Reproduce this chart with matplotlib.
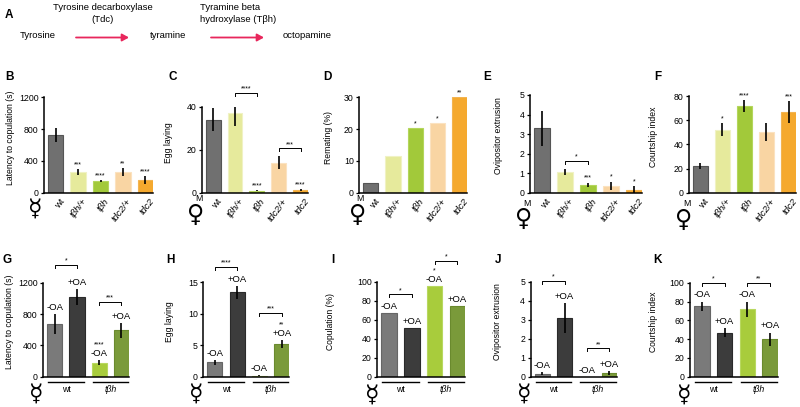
# -*- encoding: utf-8 -*-
import numpy as np
import matplotlib
matplotlib.use('Agg')
from matplotlib import pyplot as plt

plt.rcParams['font.family'] = ['Liberation Sans', 'DejaVu Sans']
plt.rcParams['font.size'] = 6

W, H = 800, 407

############## DATI ################################
genotypes = ['wt', 'tβh/+', 'tβh', 'tdc2/+', 'tdc2']
geno_colors = ['#707070', '#e6ea9c', '#a2c93a', '#f9d5a3', '#f5a92e']
geno_edges = ['#555555', '#f0f2c4', '#b4d65c', '#fbe2c0', '#f3b451']

latency = [730, 260, 145, 265, 160]
latency_err = [90, 42, 10, 50, 55]
latency_stars = ['', '***', '****', '**', '****']

eggs = [34, 37, 1.0, 14, 1.2]
eggs_err = [5.3, 6, 0.3, 3, 0.3]
eggs_stars = ['', '', '****', '', '****']
eggs_pairs = [(1, 2, 46.5, '****'), (3, 4, 20.8, '***')]

remating = [3, 11.5, 20.2, 21.8, 30]
remating_stars = ['', '', '*', '*', '**']

ovi = [3.3, 1.05, 0.4, 0.35, 0.15]
ovi_err = [0.9, 0.15, 0.12, 0.22, 0.17]
ovi_stars = ['', '', '***', '*', '*']
ovi_pairs = [(1, 2, 1.64, '*')]

court = [22, 52, 72, 50, 67]
court_err = [2.5, 5.5, 5, 7.5, 9]
court_stars = ['', '*', '****', '', '***']

groups = ['wt', 'tβh']
treat = ['-OA', '+OA', '-OA', '+OA']
oa_colors = ['#7a7a7a', '#3c3c3c', '#a8cc3c', '#7a9a3a']
oa_edges = ['#666666', '#2a2a2a', '#b8d860', '#6a8a2e']

lat_oa = [670, 1020, 180, 590]
lat_oa_err = [130, 100, 30, 100]
lat_oa_stars = ['', '', '****', '']
lat_oa_pairs = [(0, 1, 1430, '*'), (2, 3, 960, '***')]

egg_oa = [2.3, 13.4, 0.15, 5.2]
egg_oa_err = [0.4, 1.0, 0.05, 0.65]
egg_oa_stars = ['', '', '', '**']
egg_oa_pairs = [(0, 1, 17.5, '****'), (2, 3, 10.2, '***')]

cop_oa = [67, 51, 95, 74]
cop_oa_stars = ['', '', '*', '']
cop_oa_pairs = [(0, 1, 87, '*'), (2, 3, 122, '*')]

ovi_oa = [0.15, 3.1, 0.0, 0.2]
ovi_oa_err = [0.08, 0.8, 0.0, 0.12]
ovi_oa_stars = ['', '', '', '']
ovi_oa_pairs = [(0, 1, 5.05, '*'), (2, 3, 1.5, '**')]

court_oa = [75, 47, 72, 40]
court_oa_err = [5, 4.5, 8, 7]
court_oa_stars = ['', '', '', '']
court_oa_pairs = [(0, 1, 100, '*'), (2, 3, 100, '**')]

fig = plt.figure(figsize=(W / 100, H / 100), dpi=100)


def px_axes(x0, x1, ytop, ybot):
    return fig.add_axes([x0 / W, 1 - ybot / H, (x1 - x0) / W, (ybot - ytop) / H])


def base(ax, x0, x1, ytop, ybot, ylim, yticks, ylabel, lab_x, n):
    ax.set_ylim(ylim)
    ax.set_yticks(yticks)
    ax.set_xlim(-0.52, n - 1 + 0.34)
    for s in ('top', 'right'):
        ax.spines[s].set_visible(False)
    for s in ('left', 'bottom'):
        ax.spines[s].set_linewidth(1.1)
    ax.tick_params(axis='y', length=2.5, width=0.9, pad=1.5, labelsize=6.3)
    ax.tick_params(axis='x', length=0)
    ax.set_ylabel(ylabel, fontsize=6.2)
    ax.yaxis.set_label_coords((lab_x - x0) / (x1 - x0), 0.58)
    ax.patch.set_alpha(0)


def bars(ax, vals, errs, colors, edges):
    x = np.arange(len(vals))
    ax.bar(x, vals, width=0.68, color=colors, edgecolor=edges, linewidth=0.8)
    if errs is not None:
        ax.errorbar(x, vals, yerr=errs, fmt='none', ecolor='k', elinewidth=1.2, capsize=0)


def bracket(ax, i, j, y, stars, drop):
    ax.plot([i, i, j, j], [y - drop, y, y, y - drop], color='k', lw=0.7, clip_on=False)
    ax.text((i + j) / 2, y, stars, ha='center', va='bottom', fontsize=5)


def top_of(vals, errs, k):
    return vals[k] + (errs[k] if errs is not None else 0)


############## RIGA 1 ################################
def panel1(x0, x1, ytop, vals, errs, stars, pairs, ylim, yticks, ylabel, lab_x):
    ybot = 192.7
    ax = px_axes(x0, x1, ytop, ybot)
    base(ax, x0, x1, ytop, ybot, ylim, yticks, ylabel, lab_x, 5)
    bars(ax, vals, errs, geno_colors, geno_edges)
    for k, s in enumerate(stars):
        if s:
            ax.annotate(s, (k, top_of(vals, errs, k)), xytext=(0, 0.5),
                        textcoords='offset points', ha='center', va='bottom', fontsize=5)
    drop = 3 * (ylim[1] - ylim[0]) / (ybot - ytop)
    for i, j, y, s in pairs:
        bracket(ax, i, j, y, s, drop)
    ax.set_xticks(np.arange(5) + 0.15)
    labs = ax.set_xticklabels(genotypes, rotation=52, ha='right', rotation_mode='anchor', fontsize=6.8)
    for k, t in enumerate(labs):
        if k > 0:
            t.set_fontstyle('italic')
    ax.tick_params(axis='x', pad=3)
    return ax


panel1(44, 153, 97.3, latency, latency_err, latency_stars, [], (0, 1200),
       [0, 400, 800, 1200], 'Latency to copulation (s)', 15)
panel1(201.7, 308, 106.7, eggs, eggs_err, eggs_stars, eggs_pairs, (0, 40),
       [0, 20, 40], 'Egg laying', 173)
panel1(359.3, 467, 97.3, remating, None, remating_stars, [], (0, 30),
       [0, 10, 20, 30], 'Remating (%)', 333)
panel1(530, 642, 95, ovi, ovi_err, ovi_stars, ovi_pairs, (0, 5),
       [0, 1, 2, 3, 4, 5], 'Ovipositor extrusion', 503)
panel1(689, 796, 96, court, court_err, court_stars, [], (0, 80),
       [0, 20, 40, 60, 80], 'Courtship index', 658)


############## RIGA 2 ################################
def panel2(x0, x1, ytop, vals, errs, stars, pairs, ylim, yticks, ylabel, lab_x):
    ybot = 376.7
    ax = px_axes(x0, x1, ytop, ybot)
    base(ax, x0, x1, ytop, ybot, ylim, yticks, ylabel, lab_x, 4)
    bars(ax, vals, errs, oa_colors, oa_edges)
    for k, lab in enumerate(treat):
        ax.annotate(lab, (k, top_of(vals, errs, k)), xytext=(0, 1.5),
                    textcoords='offset points', ha='center', va='bottom', fontsize=6.8)
        if stars[k]:
            ax.annotate(stars[k], (k, top_of(vals, errs, k)), xytext=(0, 8.5),
                        textcoords='offset points', ha='center', va='bottom', fontsize=5)
    drop = 3 * (ylim[1] - ylim[0]) / (ybot - ytop)
    for i, j, y, s in pairs:
        bracket(ax, i, j, y, s, drop)
    ax.set_xticks([])
    tr = ax.get_xaxis_transform()
    hpx = ybot - ytop
    for g, name in enumerate(groups):
        a, b = 2 * g - 0.3, 2 * g + 1 + 0.3
        ax.plot([a, b], [-5 / hpx, -5 / hpx], color='k', lw=1.0, transform=tr, clip_on=False)
        ax.text((a + b) / 2, -8 / hpx, name, transform=tr, ha='center', va='top',
                fontsize=6.3, fontstyle='italic' if g else 'normal')
    return ax


panel2(43.3, 129, 282.7, lat_oa, lat_oa_err, lat_oa_stars, lat_oa_pairs, (0, 1200),
       [0, 400, 800, 1200], 'Latency to copulation (s)', 14)
panel2(203.3, 289.3, 282.3, egg_oa, egg_oa_err, egg_oa_stars, egg_oa_pairs, (0, 15),
       [0, 5, 10, 15], 'Egg laying', 174)
panel2(377.3, 465, 281.7, cop_oa, None, cop_oa_stars, cop_oa_pairs, (0, 100),
       [0, 20, 40, 60, 80, 100], 'Copulation (%)', 335)
panel2(530.7, 617, 281.7, ovi_oa, ovi_oa_err, ovi_oa_stars, ovi_oa_pairs, (0, 5),
       [0, 1, 2, 3, 4, 5], 'Ovipositor extrusion', 502)
panel2(690, 778, 282.7, court_oa, court_oa_err, court_oa_stars, court_oa_pairs, (0, 100),
       [0, 20, 40, 60, 80, 100], 'Courtship index', 658)


############## TESTI ################################
def ftext(x, y, s, **kw):
    fig.text(x / W, 1 - y / H, s, **kw)


# lettere dei pannelli
for lett, x, y in [('A', 9, 15), ('B', 10, 77), ('C', 173, 77), ('D', 327, 77),
                   ('E', 487, 77), ('F', 658, 77), ('G', 7, 260), ('H', 170, 260),
                   ('I', 333, 260), ('J', 498, 260), ('K', 657, 260)]:
    ftext(x, y, lett, fontsize=8.5, fontweight='bold', ha='center', va='center')

# pannello A
ftext(38, 36, 'Tyrosine', fontsize=6.8, ha='center', va='center')
ftext(168, 36, 'tyramine', fontsize=6.8, ha='center', va='center')
ftext(307, 36, 'octopamine', fontsize=6.8, ha='center', va='center')
ftext(103, 7.5, 'Tyrosine decarboxylase', fontsize=6.8, ha='center', va='center')
ftext(103, 19.5, '(Tdc)', fontsize=6.8, ha='center', va='center')
ftext(200, 7.5, 'Tyramine beta', fontsize=6.8, ha='left', va='center')
ftext(200, 19.5, 'hydroxylase (Tβh)', fontsize=6.8, ha='left', va='center')
for xa, xb in [(76, 129), (211, 264)]:
    fig.patches.append(matplotlib.patches.FancyArrowPatch(
        (xa / W, 1 - 37.5 / H), (xb / W, 1 - 37.5 / H), transform=fig.transFigure,
        arrowstyle='-|>,head_length=4,head_width=2.2', color='#e8275c', lw=1.3,
        shrinkA=0, shrinkB=0))

# simboli del sesso (baseline sotto il simbolo)
for x, y in [(35, 216), (36.5, 401), (196.5, 401), (372.5, 402), (524.5, 401), (684.5, 402)]:
    ftext(x, y, '☿', fontsize=17, ha='center', va='baseline', family='DejaVu Sans')
for x, y in [(196, 221.5), (357.7, 221.5), (524, 226), (684, 226.5)]:
    ftext(x, y, '♀', fontsize=17, ha='center', va='baseline', family='DejaVu Sans')
    ftext(x + 2.5, y - 23, 'M', fontsize=6.3, ha='center', va='center')

fig.savefig('out.png', dpi=100)
